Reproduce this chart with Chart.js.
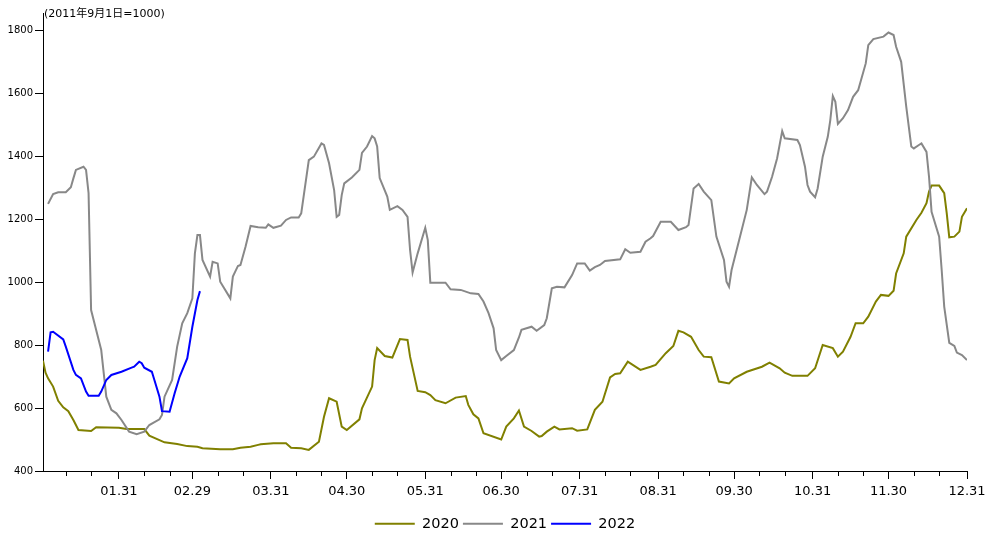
<!DOCTYPE html>
<html>
<head>
<meta charset="utf-8">
<script src="https://cdn.jsdelivr.net/npm/chart.js@4.4.1/dist/chart.umd.min.js"></script>
<style>
  html, body { margin: 0; padding: 0; background: #fff; }
</style>
</head>
<body>
<canvas id="indexChart" width="988" height="538"></canvas>
<script>
// day index counts from Jan 1 (= 0) of a leap year, so 12.31 = 365
const seriesNames = ['2020', '2021', '2022'];
const seriesColors = ['#808000', '#888888', '#0000ff'];

const days2020 = [0, 1, 2, 4, 6, 8, 10, 12, 14, 19, 21, 30, 33, 40, 42, 48, 53, 57, 61, 63, 70, 75, 78, 82, 85, 86, 91, 96, 98, 102,
  105, 109, 111, 113, 116, 118, 120, 125, 126, 130, 131, 132, 135, 138, 141, 144, 145, 148, 151, 153, 155, 159, 163, 167, 168, 170, 172, 174, 181, 183,
  186, 188, 190, 193, 196, 197, 199, 202, 204, 209, 211, 215, 218, 221, 224, 226, 228, 231, 236, 240, 242, 246, 249, 251, 253, 256, 259, 261, 264, 267,
  271, 273, 278, 284, 287, 291, 293, 296, 302, 305, 308, 312, 314, 316, 319, 321, 324, 326, 329, 331, 334, 336, 337, 340, 341, 345, 347, 349, 350, 351,
  354, 356, 357, 358, 360, 362, 363, 365];
const values2020 = [750, 712, 694, 668, 623, 602, 590, 562, 530, 527, 539, 537, 533, 533, 512, 491, 486, 479, 477, 472, 469, 469, 474, 477, 483, 485, 488, 488, 474, 472,
  467, 493, 572, 631, 620, 541, 530, 564, 599, 668, 752, 790, 765, 760, 819, 816, 763, 654, 650, 641, 625, 615, 633, 638, 610, 580, 567, 520, 500, 541,
  567, 592, 541, 527, 509, 511, 525, 541, 532, 536, 528, 532, 594, 620, 697, 708, 710, 747, 721, 731, 737, 774, 797, 845, 840, 826, 784, 763, 761, 684,
  678, 694, 715, 731, 744, 726, 712, 702, 702, 726, 800, 790, 763, 779, 826, 869, 869, 890, 938, 959, 956, 972, 1027, 1091, 1144, 1197, 1220, 1250, 1287, 1306,
  1306, 1282, 1218, 1142, 1144, 1160, 1207, 1234];

const days2021 = [2, 4, 6, 9, 11, 12, 13, 16, 17, 18, 19, 21, 23, 24, 25, 27, 29, 31, 34, 37, 40, 42, 46, 47, 48, 51, 53, 55, 57, 59,
  60, 61, 62, 63, 66, 67, 69, 70, 74, 75, 77, 78, 80, 82, 85, 88, 89, 91, 94, 96, 98, 101, 102, 105, 107, 110, 111, 113, 115, 116,
  117, 118, 119, 122, 125, 126, 128, 130, 131, 132, 133, 136, 137, 140, 142, 144, 145, 146, 148, 151, 152, 153, 159, 161, 165, 169, 172, 174, 176, 178,
  179, 181, 183, 186, 188, 189, 193, 195, 198, 199, 201, 203, 206, 209, 211, 214, 216, 218, 220, 222, 228, 230, 232, 236, 238, 240, 241, 244, 248, 251,
  254, 255, 257, 259, 261, 264, 266, 269, 270, 271, 272, 275, 278, 280, 282, 285, 286, 288, 290, 292, 293, 298, 299, 301, 302, 303, 305, 306, 308, 310,
  311, 312, 313, 314, 316, 318, 320, 322, 325, 326, 328, 332, 334, 336, 337, 339, 341, 343, 344, 346, 347, 349, 350, 351, 354, 355, 356, 358, 360, 361,
  363, 365];
const values2021 = [1248, 1279, 1285, 1285, 1301, 1329, 1356, 1366, 1356, 1282, 911, 848, 784, 710, 636, 594, 583, 562, 525, 517, 525, 546, 564, 578, 636, 689, 795, 869, 901, 948,
  1091, 1149, 1149, 1070, 1017, 1064, 1059, 1001, 948, 1017, 1051, 1054, 1112, 1178, 1174, 1172, 1183, 1172, 1179, 1197, 1205, 1205, 1218, 1387, 1398, 1440, 1435, 1377, 1292, 1207,
  1213, 1276, 1313, 1332, 1356, 1410, 1430, 1463, 1456, 1430, 1330, 1271, 1229, 1241, 1229, 1207, 1102, 1030, 1091, 1172, 1133, 998, 998, 977, 975, 964, 962, 938, 901, 853,
  784, 752, 765, 784, 824, 848, 858, 845, 863, 885, 980, 985, 983, 1022, 1059, 1059, 1036, 1047, 1054, 1067, 1072, 1104, 1093, 1096, 1128, 1139, 1146, 1191, 1191, 1165,
  1174, 1181, 1297, 1311, 1287, 1260, 1144, 1070, 1001, 985, 1038, 1133, 1229, 1332, 1308, 1279, 1287, 1334, 1393, 1479, 1456, 1451, 1435, 1366, 1308, 1287, 1269, 1297, 1398, 1461,
  1514, 1590, 1572, 1502, 1520, 1546, 1588, 1609, 1694, 1752, 1771, 1779, 1792, 1784, 1747, 1699, 1557, 1430, 1424, 1435, 1440, 1413, 1334, 1223, 1144, 1038, 922, 807, 797, 776,
  768, 752];

const days2022 = [2, 3, 4, 8, 9, 12, 13, 15, 17, 18, 22, 23, 25, 27, 31, 35, 36, 38, 39, 40, 43, 44, 46, 47, 50, 52, 54, 57, 59, 61, 62];
const values2022 = [779, 840, 842, 818, 795, 721, 705, 694, 652, 639, 639, 652, 689, 705, 715, 728, 731, 747, 742, 728, 715, 689, 636, 590, 588, 647, 700, 758, 858, 943, 971];

const monthEndDays = [30, 59, 90, 120, 151, 181, 212, 243, 273, 304, 334, 365];
const monthEndLabels = ['01.31', '02.29', '03.31', '04.30', '05.31', '06.30', '07.31', '08.31', '09.30', '10.31', '11.30', '12.31'];
const minorTickDays = [9, 19, 40, 50, 69, 79, 100, 110, 130, 140, 161, 171, 191, 201, 222, 232, 253, 263, 283, 293, 314, 324, 344, 354];
const yTicks = [400, 600, 800, 1000, 1200, 1400, 1600, 1800];
const titleText = '(2011年9月1日=1000)';

const FONT = '"DejaVu Sans", "Noto Sans CJK SC", sans-serif';
Chart.defaults.font.family = FONT;
Chart.defaults.color = '#000';

function toPoints(days, values) {
  return days.map((d, i) => ({ x: d, y: values[i] }));
}

// minor ticks on the 10th / 20th and the base-index note at top left
const axisExtras = {
  id: 'axisExtras',
  afterDraw(chart) {
    const ctx = chart.ctx;
    const x = chart.scales.x;
    const base = chart.chartArea.bottom;
    ctx.save();
    ctx.strokeStyle = '#000';
    ctx.lineWidth = 1;
    ctx.beginPath();
    minorTickDays.forEach(d => {
      const px = Math.round(x.getPixelForValue(d)) + 0.5;
      ctx.moveTo(px, base);
      ctx.lineTo(px, base + 5);
    });
    ctx.stroke();
    ctx.fillStyle = '#000';
    ctx.font = '11px ' + FONT;
    ctx.textBaseline = 'middle';
    ctx.fillText(titleText, chart.chartArea.left + 1, 14);
    ctx.restore();
  }
};

const allDays = [days2020, days2021, days2022];
const allValues = [values2020, values2021, values2022];

new Chart(document.getElementById('indexChart').getContext('2d'), {
  type: 'line',
  data: {
    datasets: seriesNames.map((name, i) => ({
      label: name,
      data: toPoints(allDays[i], allValues[i]),
      borderColor: seriesColors[i],
      backgroundColor: seriesColors[i],
      borderWidth: 2,
      pointRadius: 0,
      tension: 0,
      fill: false,
      order: 3 - i
    }))
  },
  options: {
    responsive: false,
    animation: false,
    layout: { padding: { top: 13, right: 21, bottom: -3, left: 0 } },
    scales: {
      x: {
        type: 'linear',
        min: 0,
        max: 365,
        afterBuildTicks: axis => { axis.ticks = monthEndDays.map(v => ({ value: v })); },
        afterFit: axis => {
          axis.height = 41.5;
          axis.paddingLeft = 0;
          axis.paddingRight = 0;
        },
        grid: { drawOnChartArea: false, color: '#000', tickLength: 8 },
        border: { color: '#000', width: 1 },
        ticks: {
          autoSkip: false,
          maxRotation: 0,
          padding: 5,
          font: { size: 13 },
          callback: (value, index) => monthEndLabels[index]
        }
      },
      y: {
        min: 400,
        max: 1854,
        afterBuildTicks: axis => { axis.ticks = yTicks.map(v => ({ value: v })); },
        afterFit: axis => { axis.width = 43; },
        grid: { drawOnChartArea: false, color: '#000', tickLength: 8 },
        border: { color: '#000', width: 1 },
        ticks: { padding: 2, font: { size: 10 }, callback: value => String(value) }
      }
    },
    plugins: {
      legend: {
        position: 'bottom',
        fullSize: false,
        labels: {
          usePointStyle: true,
          pointStyle: 'line',
          pointStyleWidth: 40,
          padding: 4,
          font: { size: 14.5 },
          sort: (a, b) => a.datasetIndex - b.datasetIndex
        }
      },
      tooltip: { enabled: false }
    }
  },
  plugins: [axisExtras]
});
</script>
</body>
</html>
